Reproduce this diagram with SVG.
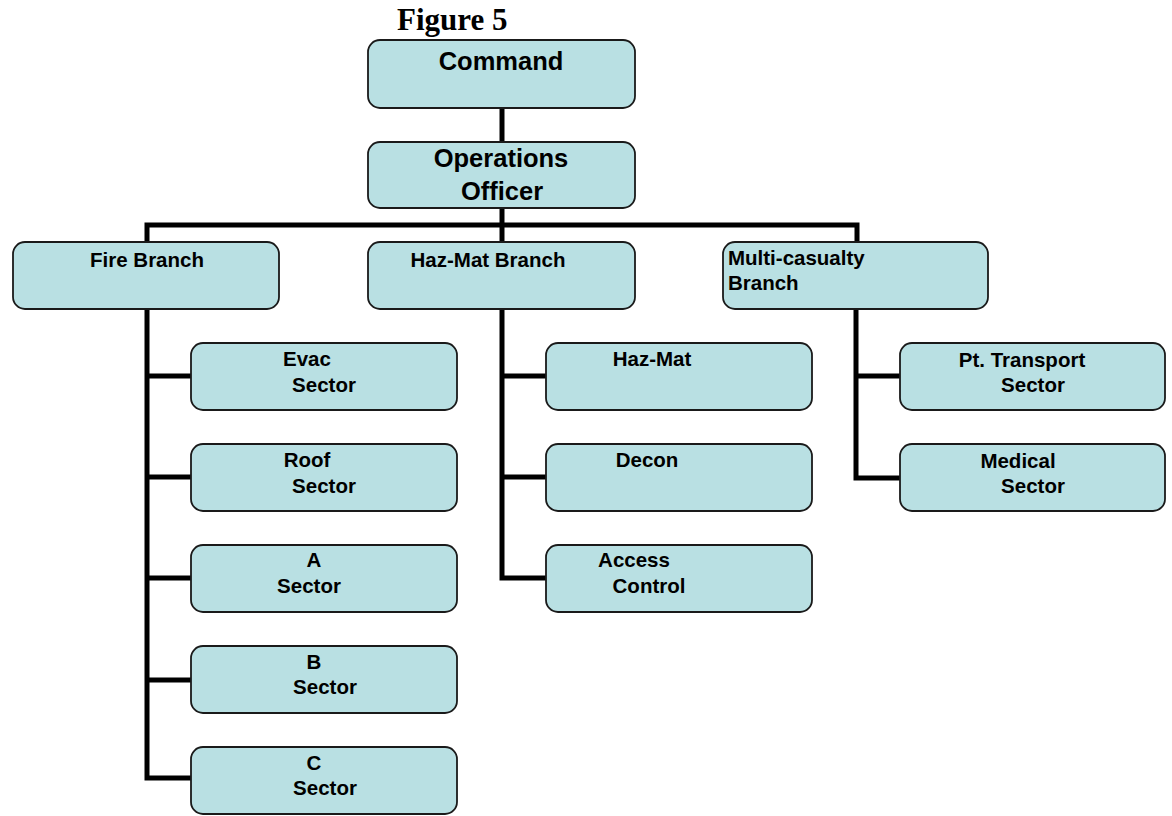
<svg xmlns="http://www.w3.org/2000/svg" width="1172" height="816" viewBox="0 0 1172 816">
  <style>
    .box { fill: #b9e0e3; stroke: #1a1a1a; stroke-width: 1.8; }
    .lbl { font-family: "Liberation Sans", Arial, sans-serif; font-weight: bold; font-size: 20.5px; fill: #000; text-anchor: middle; }
    .big { font-size: 25.5px; }
    .left { text-anchor: start; }
    .title { font-family: "Liberation Serif", "Times New Roman", serif; font-weight: bold; font-size: 31px; fill: #000; }
    .wire { fill: none; stroke: #000; stroke-width: 5; stroke-linejoin: miter; stroke-linecap: butt; }
  </style>
  <rect width="1172" height="816" fill="#fff"/>

  <text class="title" x="397" y="30">Figure 5</text>

  <!-- connectors -->
  <g id="connectors">
    <path class="wire" d="M502,108 V142"/>
    <path class="wire" d="M502,208 V242"/>
    <path class="wire" d="M147,242 V225 H857 V242"/>
    <!-- fire branch spine -->
    <path class="wire" d="M147,309 V778 H191"/>
    <path class="wire" d="M147,376 H191 M147,477 H191 M147,578 H191 M147,680 H191"/>
    <!-- haz-mat branch spine -->
    <path class="wire" d="M502,309 V578 H546"/>
    <path class="wire" d="M502,376 H546 M502,477 H546"/>
    <!-- multi-casualty branch spine -->
    <path class="wire" d="M856,309 V478 H900"/>
    <path class="wire" d="M856,376 H900"/>
  </g>

  <g id="command">
    <rect class="box" x="368" y="40" width="267" height="68" rx="12"/>
    <text class="lbl big" x="501" y="70">Command</text>
  </g>
  <g id="operations">
    <rect class="box" x="368" y="142" width="267" height="66" rx="12"/>
    <text class="lbl big" x="501" y="167">Operations</text>
    <text class="lbl big" x="502" y="200">Officer</text>
  </g>

  <g id="fire-branch">
    <rect class="box" x="13" y="242" width="266" height="67" rx="12"/>
    <text class="lbl" x="147" y="267">Fire Branch</text>
  </g>
  <g id="hazmat-branch">
    <rect class="box" x="368" y="242" width="267" height="67" rx="12"/>
    <text class="lbl" x="488" y="267">Haz-Mat Branch</text>
  </g>
  <g id="multi-casualty-branch">
    <rect class="box" x="723" y="242" width="265" height="67" rx="12"/>
    <text class="lbl left" x="728" y="265">Multi-casualty</text>
    <text class="lbl left" x="728" y="290">Branch</text>
  </g>

  <g id="evac-sector">
    <rect class="box" x="191" y="343" width="266" height="67" rx="12"/>
    <text class="lbl" x="307" y="366">Evac</text>
    <text class="lbl" x="324" y="392">Sector</text>
  </g>
  <g id="roof-sector">
    <rect class="box" x="191" y="444" width="266" height="67" rx="12"/>
    <text class="lbl" x="307" y="467">Roof</text>
    <text class="lbl" x="324" y="493">Sector</text>
  </g>
  <g id="a-sector">
    <rect class="box" x="191" y="545" width="266" height="67" rx="12"/>
    <text class="lbl" x="314" y="567">A</text>
    <text class="lbl" x="309" y="593">Sector</text>
  </g>
  <g id="b-sector">
    <rect class="box" x="191" y="646" width="266" height="67" rx="12"/>
    <text class="lbl" x="314" y="669">B</text>
    <text class="lbl" x="325" y="694">Sector</text>
  </g>
  <g id="c-sector">
    <rect class="box" x="191" y="747" width="266" height="67" rx="12"/>
    <text class="lbl" x="314" y="770">C</text>
    <text class="lbl" x="325" y="795">Sector</text>
  </g>

  <g id="hazmat">
    <rect class="box" x="546" y="343" width="266" height="67" rx="12"/>
    <text class="lbl" x="652" y="366">Haz-Mat</text>
  </g>
  <g id="decon">
    <rect class="box" x="546" y="444" width="266" height="67" rx="12"/>
    <text class="lbl" x="647" y="467">Decon</text>
  </g>
  <g id="access-control">
    <rect class="box" x="546" y="545" width="266" height="67" rx="12"/>
    <text class="lbl" x="634" y="567">Access</text>
    <text class="lbl" x="649" y="593">Control</text>
  </g>

  <g id="pt-transport-sector">
    <rect class="box" x="900" y="343" width="265" height="67" rx="12"/>
    <text class="lbl" x="1022" y="367">Pt. Transport</text>
    <text class="lbl" x="1033" y="392">Sector</text>
  </g>
  <g id="medical-sector">
    <rect class="box" x="900" y="444" width="265" height="67" rx="12"/>
    <text class="lbl" x="1018" y="468">Medical</text>
    <text class="lbl" x="1033" y="493">Sector</text>
  </g>
</svg>
